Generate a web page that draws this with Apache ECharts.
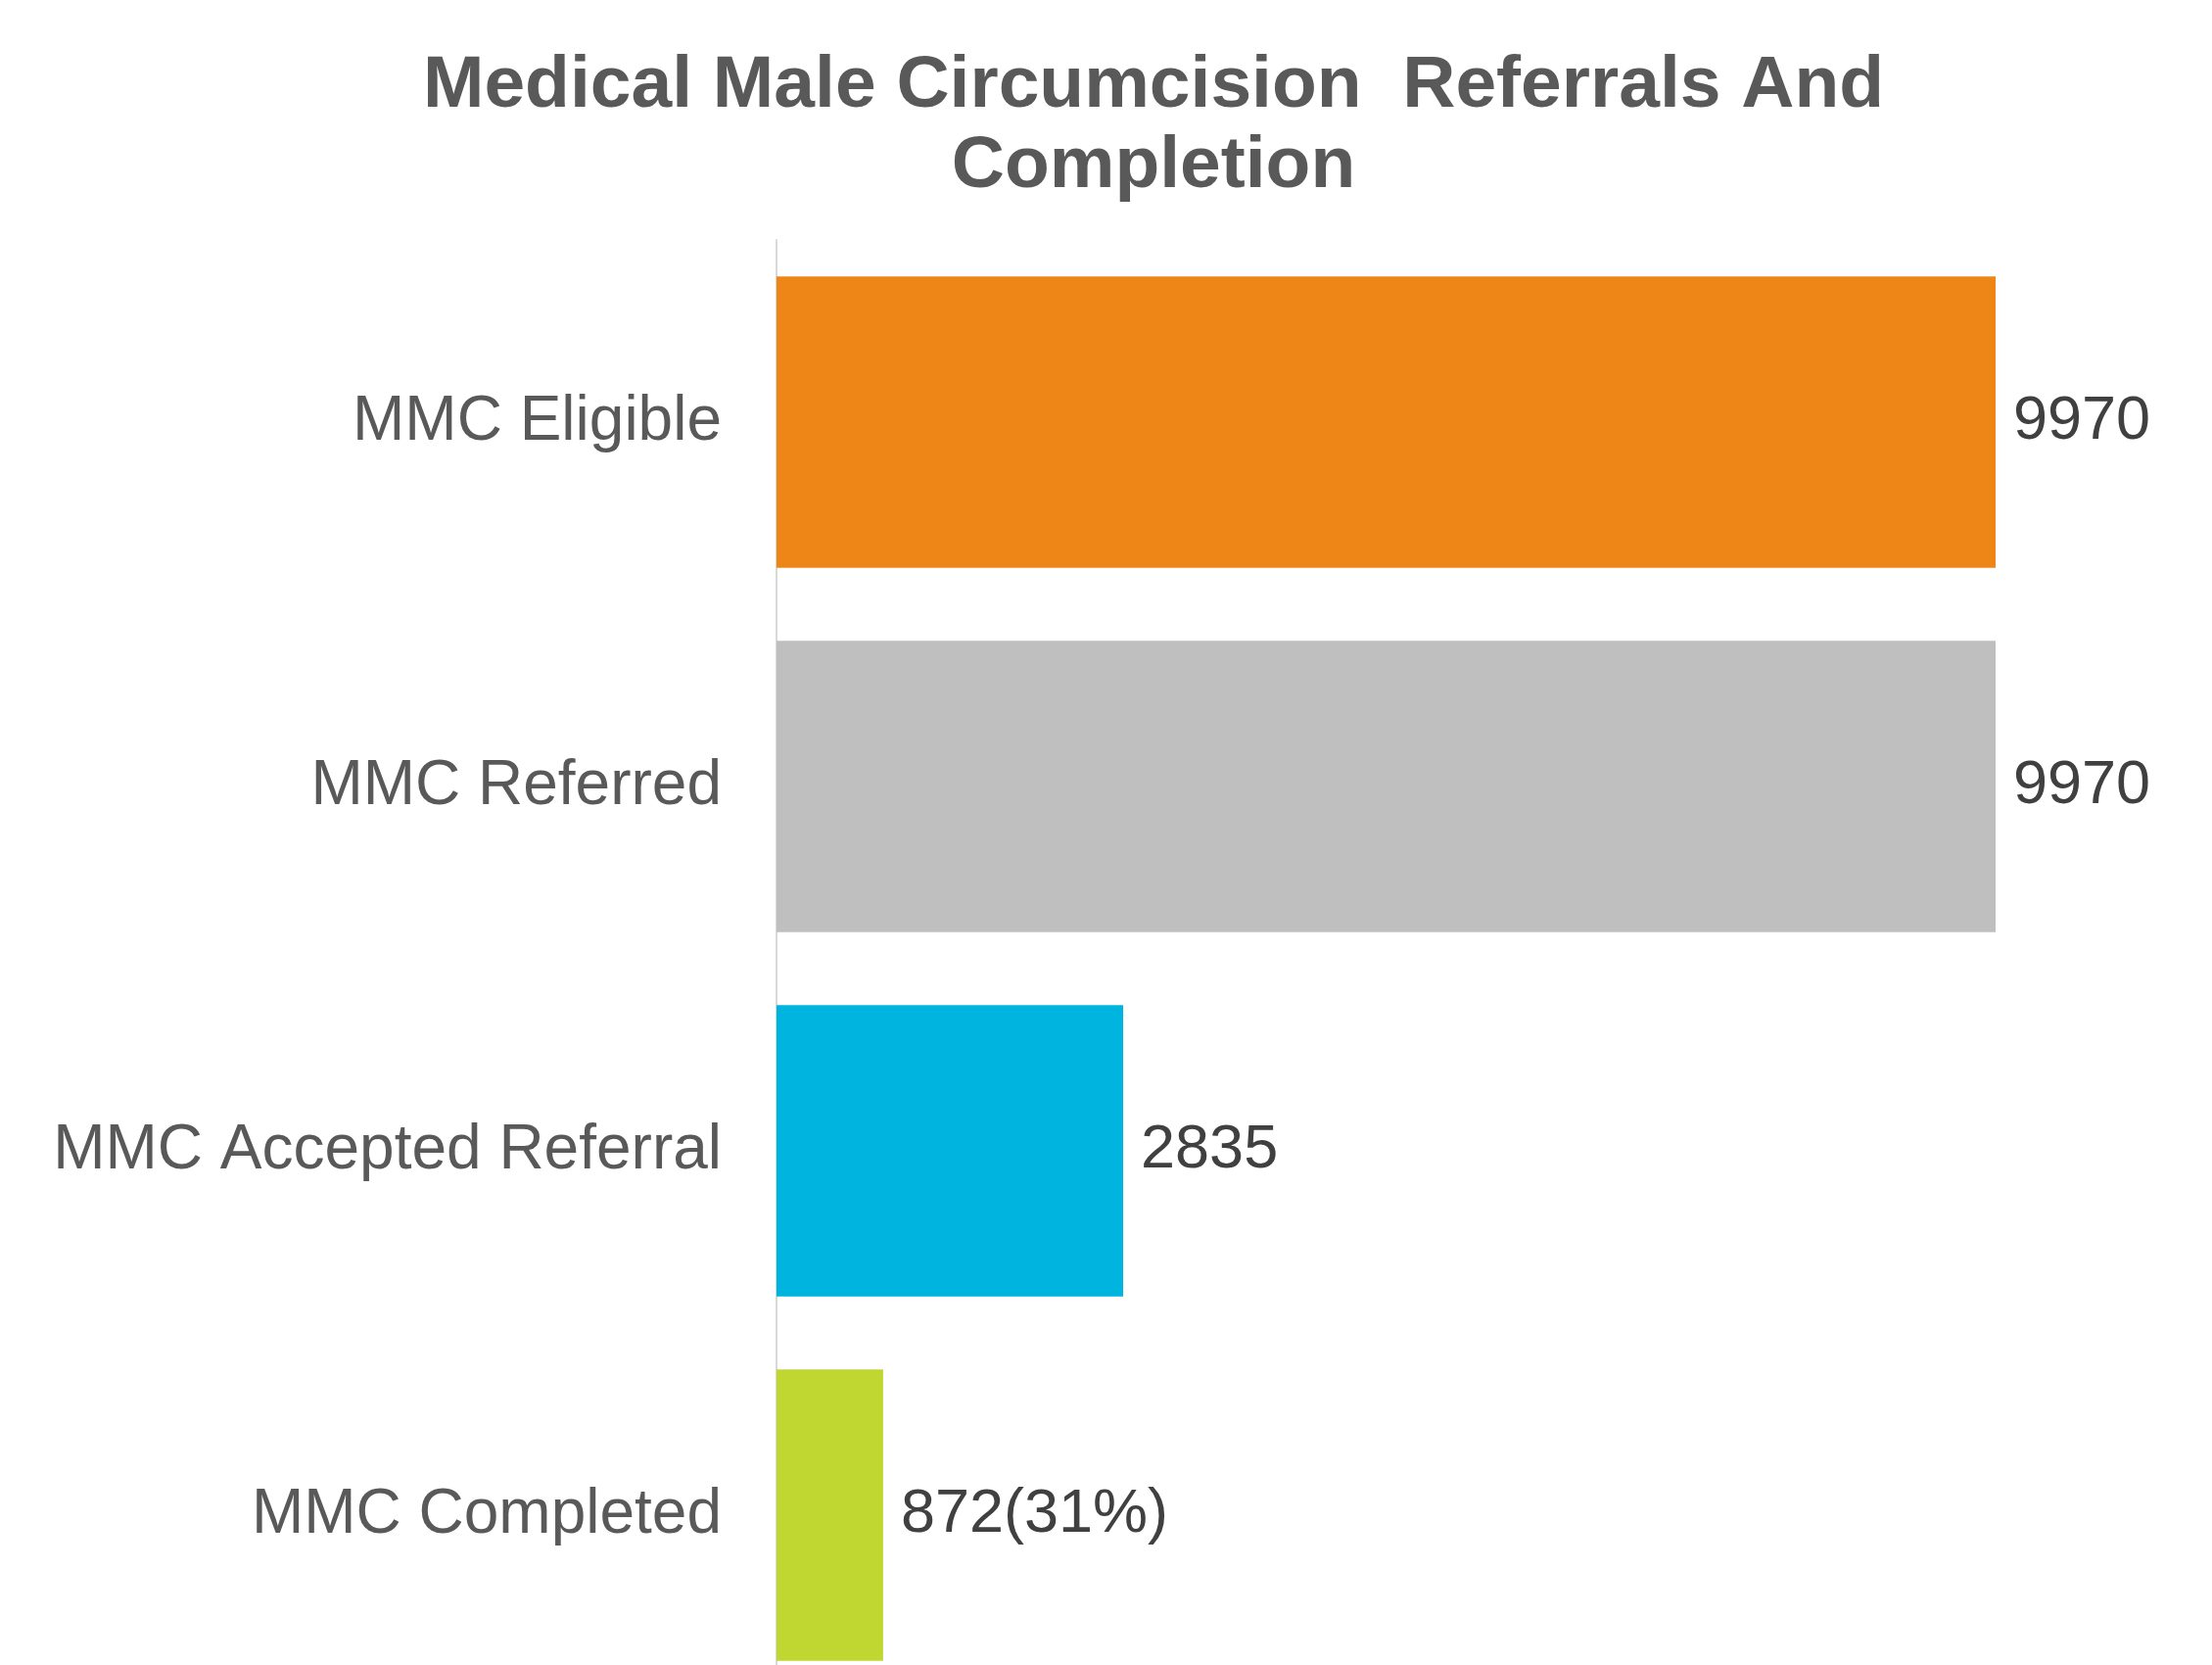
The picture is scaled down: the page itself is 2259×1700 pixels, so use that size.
<!DOCTYPE html>
<html>
<head>
<meta charset="utf-8">
<script src="https://cdn.jsdelivr.net/npm/echarts@6/dist/echarts.min.js"></script>
<style>
html, body { margin: 0; padding: 0; background: #ffffff; }
#chart { width: 2259px; height: 1700px; }
</style>
</head>
<body>
<div id="chart"></div>
<script>
// chart data
var categories = ['MMC Eligible', 'MMC Referred', 'MMC Accepted Referral', 'MMC Completed'];
var values = [9970, 9970, 2835, 872];
var valueLabels = ['9970', '9970', '2835', '872(31%)'];
var barColors = ['#EE8617', '#BFBFBF', '#00B4E0', '#BFD730'];

var chart = echarts.init(document.getElementById('chart'));

chart.setOption({
    backgroundColor: '#ffffff',
    animation: false,
    title: {
        text: 'Medical Male Circumcision  Referrals And\nCompletion',
        left: 1178,
        top: 47,
        padding: 0,
        textAlign: 'center',
        textStyle: {
            fontFamily: 'Liberation Sans',
            fontWeight: 'bold',
            fontSize: 75,
            lineHeight: 82,
            color: '#595959'
        }
    },
    // the last row runs past the bottom edge in the original, so let the grid overflow
    grid: { left: 793, right: 221, top: 245, height: 1488, containLabel: false, outerBoundsMode: 'none' },
    xAxis: {
        type: 'value',
        min: 0,
        max: 9970,
        show: false
    },
    yAxis: {
        type: 'category',
        inverse: true,
        data: categories,
        axisLine: { show: true, lineStyle: { color: '#D9D9D9', width: 2 } },
        axisTick: { show: false },
        axisLabel: {
            margin: 56,
            fontFamily: 'Liberation Sans',
            fontSize: 64,
            color: '#595959'
        }
    },
    series: [{
        type: 'bar',
        barCategoryGap: '20%',
        data: values.map(function (v, i) {
            return { value: v, itemStyle: { color: barColors[i] } };
        }),
        label: {
            show: true,
            position: 'right',
            distance: 18,
            fontFamily: 'Liberation Sans',
            fontSize: 63,
            color: '#404040',
            formatter: function (p) { return valueLabels[p.dataIndex]; }
        }
    }]
});
</script>
</body>
</html>
